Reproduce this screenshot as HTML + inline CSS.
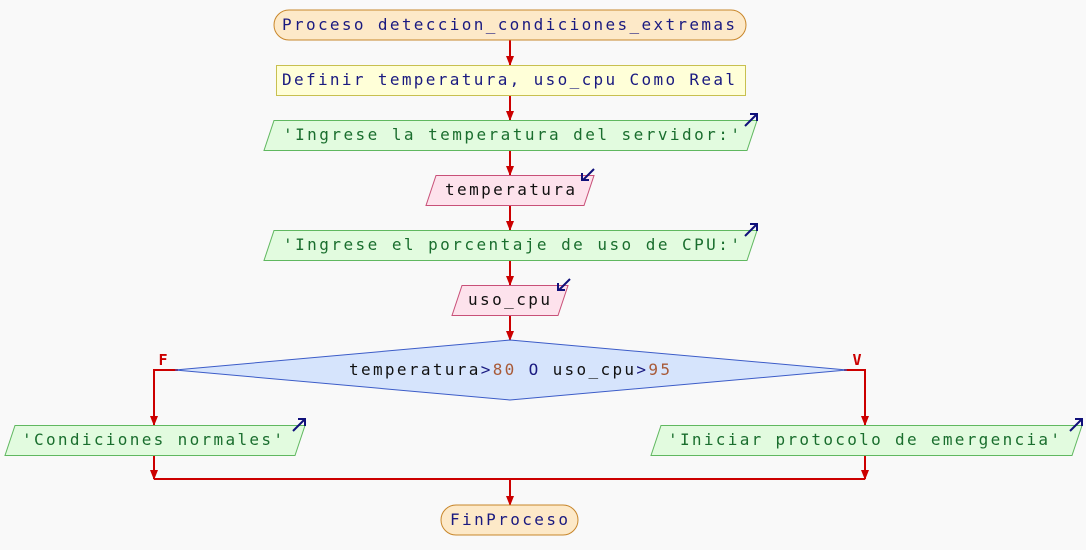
<!DOCTYPE html>
<html><head><meta charset="utf-8"><style>
html,body{margin:0;padding:0;background:#f9f9f9;}
svg{display:block}
</style></head><body>
<svg width="1086" height="550" viewBox="0 0 1086 550" xmlns="http://www.w3.org/2000/svg" font-family="'DejaVu Sans Mono','Liberation Mono',monospace" font-size="16">
<defs>
<marker id="ah" markerWidth="10" markerHeight="8" refX="9" refY="4" orient="auto" markerUnits="userSpaceOnUse">
<path d="M0,0 L10,4 L0,8 z" fill="#cc0000"/></marker>
</defs>
<rect width="1086" height="550" fill="#f9f9f9"/>
<g stroke="#cc0000" stroke-width="2" fill="none">
<line x1="510" y1="40" x2="510" y2="65" marker-end="url(#ah)"/>
<line x1="510" y1="95" x2="510" y2="120" marker-end="url(#ah)"/>
<line x1="510" y1="150" x2="510" y2="175" marker-end="url(#ah)"/>
<line x1="510" y1="205" x2="510" y2="230" marker-end="url(#ah)"/>
<line x1="510" y1="260" x2="510" y2="285" marker-end="url(#ah)"/>
<line x1="510" y1="315" x2="510" y2="340" marker-end="url(#ah)"/>
<polyline points="178,370 154,370 154,425" marker-end="url(#ah)"/>
<polyline points="844,370 865,370 865,425" marker-end="url(#ah)"/>
<line x1="154" y1="455" x2="154" y2="479" marker-end="url(#ah)"/>
<line x1="865" y1="455" x2="865" y2="479" marker-end="url(#ah)"/>
<line x1="154" y1="479" x2="865" y2="479"/>
<line x1="510" y1="479" x2="510" y2="505" marker-end="url(#ah)"/>
</g>
<text x="163" y="365" fill="#cc0000" font-weight="bold" font-size="15" text-anchor="middle">F</text>
<text x="857" y="365" fill="#cc0000" font-weight="bold" font-size="15" text-anchor="middle">V</text>

<rect x="274" y="10" width="472" height="30" rx="15" fill="#fde9c8" stroke="#c8862a"/>
<text x="282" y="30" fill="#1a1a80" textLength="453">Proceso deteccion_condiciones_extremas</text>

<rect x="276.5" y="65.5" width="469" height="30" fill="#ffffd8" stroke="#c8c050"/>
<text x="282" y="85" fill="#1a1a80" textLength="453">Definir temperatura, uso_cpu Como Real</text>

<polygon points="274,120.5 757,120.5 747,150.5 264,150.5" fill="#e2fbdf" stroke="#60b860"/>
<text x="283" y="140" fill="#1a6e2e" textLength="457">'Ingrese la temperatura del servidor:'</text>

<polygon points="436,175.5 594,175.5 584,205.5 426,205.5" fill="#fde2ec" stroke="#c85078"/>
<text x="445" y="195" fill="#111" textLength="130">temperatura</text>

<polygon points="274,230.5 757,230.5 747,260.5 264,260.5" fill="#e2fbdf" stroke="#60b860"/>
<text x="283" y="250" fill="#1a6e2e" textLength="457">'Ingrese el porcentaje de uso de CPU:'</text>

<polygon points="462,285.5 568,285.5 558,315.5 452,315.5" fill="#fde2ec" stroke="#c85078"/>
<text x="468" y="305" fill="#111" textLength="82">uso_cpu</text>

<polygon points="510,340 847,370 510,400 175,370" fill="#d6e4fc" stroke="#3c5cc8"/>
<text x="349" y="375" fill="#111" textLength="321"><tspan>temperatura</tspan><tspan fill="#1a1a80">&gt;</tspan><tspan fill="#a85a38">80</tspan><tspan> </tspan><tspan fill="#1a1a80">O</tspan><tspan> uso_cpu</tspan><tspan fill="#1a1a80">&gt;</tspan><tspan fill="#a85a38">95</tspan></text>

<polygon points="15,425.5 305,425.5 295,455.5 5,455.5" fill="#e2fbdf" stroke="#60b860"/>
<text x="22" y="445" fill="#1a6e2e" textLength="261">'Condiciones normales'</text>

<polygon points="661,425.5 1082,425.5 1072,455.5 651,455.5" fill="#e2fbdf" stroke="#60b860"/>
<text x="668" y="445" fill="#1a6e2e" textLength="392">'Iniciar protocolo de emergencia'</text>

<rect x="441" y="505" width="137" height="30" rx="15" fill="#fde9c8" stroke="#c8862a"/>
<text x="450" y="525" fill="#1a1a80" textLength="118">FinProceso</text>

<g stroke="#10107a" stroke-width="2" fill="none">
<path d="M745,126 L756,115 M750,114 L757,114 L757,121"/>
<path d="M745,236 L756,225 M750,224 L757,224 L757,231"/>
<path d="M293,431 L304,420 M298,419 L305,419 L305,426"/>
<path d="M1070,431 L1081,420 M1075,419 L1082,419 L1082,426"/>
<path d="M594,169 L583,180 M582,173 L582,180 L589,180"/>
<path d="M570,279 L559,290 M558,283 L558,290 L565,290"/>
</g>
</svg>
</body></html>
